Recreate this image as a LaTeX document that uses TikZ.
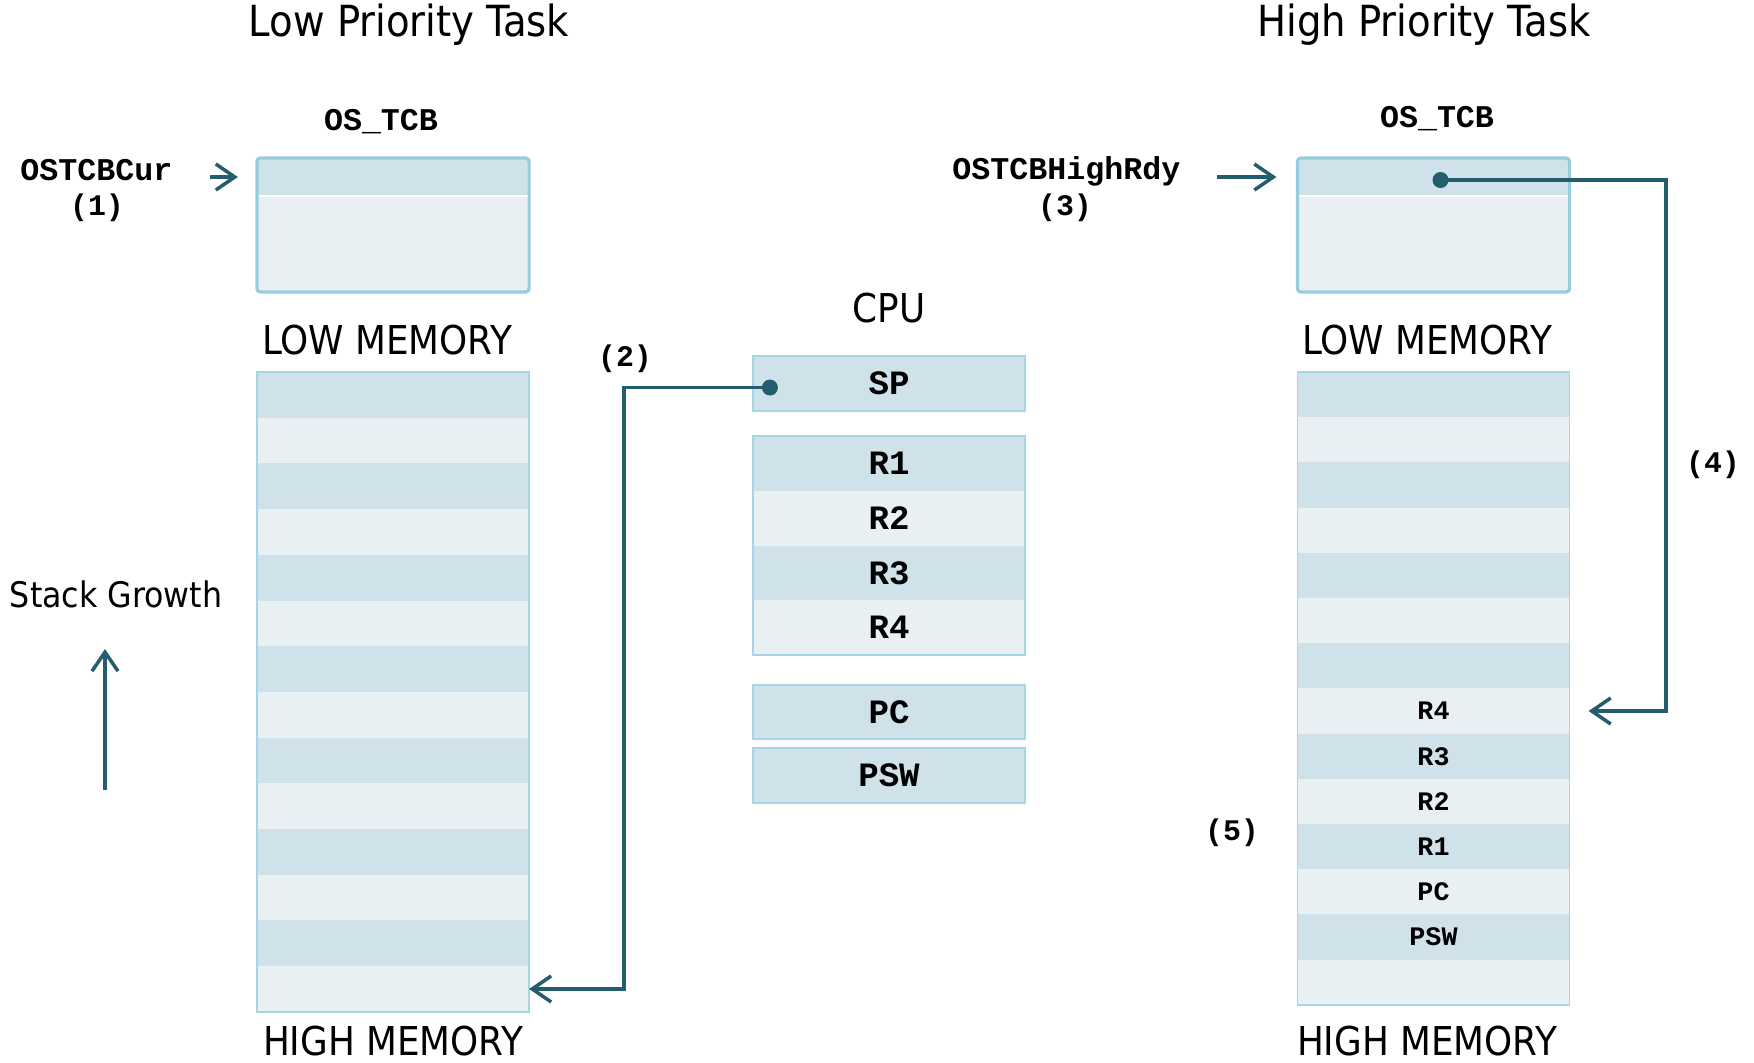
\documentclass[tikz,border=0pt]{standalone}
\usepackage{fontspec}
\setmainfont{DejaVu Sans Condensed}
\setmonofont{Liberation Mono}
\usetikzlibrary{arrows.meta}
\definecolor{rowdark}{RGB}{208,226,233}
\definecolor{rowlight}{RGB}{232,240,243}
\definecolor{tcbline}{RGB}{150,205,222}
\definecolor{cellline}{RGB}{165,214,229}
\definecolor{linkcol}{RGB}{35,93,110}
\begin{document}
\begin{tikzpicture}[x=0.01cm, y=-0.01cm,
    title/.style={font=\fontsize{12.2}{15}\selectfont, inner sep=0pt},
    memlbl/.style={font=\fontsize{11.3}{14}\selectfont, inner sep=0pt},
    growlbl/.style={font=\fontsize{10}{12}\selectfont, inner sep=0pt},
    codelbl/.style={font=\ttfamily\bfseries\fontsize{9}{11}\selectfont, inner sep=0pt},
    steplbl/.style={font=\ttfamily\bfseries\fontsize{8.5}{10}\selectfont, inner sep=0pt},
    reglbl/.style={font=\ttfamily\bfseries\fontsize{9.7}{11}\selectfont},
    slotlbl/.style={font=\ttfamily\bfseries\fontsize{7.6}{9}\selectfont},
    cell/.style={minimum width=2.72cm, inner sep=0pt, outer sep=0pt},
    cellbox/.style={draw=cellline, line width=0.5pt},
    tcbbox/.style={draw=tcbline, line width=0.9pt, rounded corners=1pt},
    link/.style={draw=linkcol, line width=1pt},
    linkarrow/.style={link, -{Straight Barb[length=0.19cm, width=0.26cm]}}
  ]
  \useasboundingbox (0,0) rectangle (1754,1062);

  \node[title] (lowtitle) at (409,25) {Low Priority Task};
  \node[title] (hightitle) at (1424,25) {High Priority Task};

  % low priority task
  \node[codelbl] (tcbLname) at (381,122) {OS\_TCB};
  \node[cell, fill=rowdark, minimum height=0.38cm] (tcbLhd) at (393,177) {};
  \node[cell, fill=rowlight, minimum height=0.96cm] (tcbLbd) at (393,244) {};
  \draw[white, line width=0.8pt] (tcbLhd.south west) -- (tcbLhd.south east);
  \draw[tcbbox] (tcbLhd.north west) rectangle (tcbLbd.south east);
  \node[codelbl, anchor=east] (curlbl) at (173,170) {OSTCBCur};
  \node[steplbl] (step1) at (97,208) {(1)};
  \draw[linkarrow, shorten <=0.37cm, shorten >=0.19cm]
    (curlbl.east |- tcbLhd.west) -- (tcbLhd.west);

  \node[memlbl] (lowmemL) at (387,340) {LOW MEMORY};
  \foreach \i in {1,...,14} {
    \pgfmathsetmacro\ly{372+45.7*(\i-0.5)}
    \ifodd\i\relax\def\c{rowdark}\else\def\c{rowlight}\fi
    \node[cell, fill=\c, minimum height=0.457cm] (ls\i) at (393,\ly) {};
  }
  \draw[cellbox] (ls1.north west) rectangle (ls14.south east);
  \node[memlbl] (highmemL) at (393,1041) {HIGH MEMORY};

  \node[growlbl] (growlbl) at (116,594) {Stack Growth};
  \coordinate (growbase) at (105,790);
  \draw[linkarrow] (growbase) -- ++(0,-141);

  % cpu
  \node[memlbl] (cpulbl) at (889,308) {CPU};
  \node[cell, cellbox, fill=rowdark, minimum height=0.55cm, reglbl] (sp) at (889,383.5) {SP};
  \foreach \r/\y/\c in {R1/463.4/rowdark, R2/518.1/rowlight, R3/572.9/rowdark, R4/627.6/rowlight} {
    \node[cell, fill=\c, minimum height=0.5475cm, reglbl] (\r) at (889,\y) {\r};
  }
  \draw[cellbox] (R1.north west) rectangle (R4.south east);
  \node[cell, cellbox, fill=rowdark, minimum height=0.54cm, reglbl] (pc) at (889,712) {PC};
  \node[cell, cellbox, fill=rowdark, minimum height=0.55cm, reglbl] (psw) at (889,775.5) {PSW};

  \node[steplbl] (step2) at (625,359) {(2)};
  \coordinate (spdot) at ([xshift=0.17cm, yshift=-0.04cm]sp.west);
  \coordinate (bend2) at (624,0);
  \draw[linkarrow] (spdot) -| (bend2 |- ls14.east) -- (ls14.east);
  \fill[linkcol] (spdot) circle (0.08cm);

  % high priority task
  \node[codelbl] (tcbRname) at (1437,119) {OS\_TCB};
  \node[cell, fill=rowdark, minimum height=0.38cm] (tcbRhd) at (1433.5,177) {};
  \node[cell, fill=rowlight, minimum height=0.96cm] (tcbRbd) at (1433.5,244) {};
  \draw[white, line width=0.8pt] (tcbRhd.south west) -- (tcbRhd.south east);
  \draw[tcbbox] (tcbRhd.north west) rectangle (tcbRbd.south east);
  \node[codelbl, anchor=east] (rdylbl) at (1181,171) {OSTCBHighRdy};
  \node[steplbl] (step3) at (1065,208) {(3)};
  \draw[linkarrow, shorten <=0.36cm, shorten >=0.21cm]
    (rdylbl.east |- tcbRhd.west) -- (tcbRhd.west);

  \node[memlbl] (lowmemR) at (1427,340) {LOW MEMORY};
  \foreach \i/\lbl in {1/{},2/{},3/{},4/{},5/{},6/{},7/{},8/R4,9/R3,10/R2,11/R1,12/PC,13/PSW,14/{}} {
    \pgfmathsetmacro\ry{372+45.2*(\i-0.5)}
    \ifodd\i\relax\def\c{rowdark}\else\def\c{rowlight}\fi
    \node[cell, fill=\c, minimum height=0.452cm, slotlbl] (rs\i) at (1433.5,\ry) {\lbl};
  }
  \draw[cellbox] (rs1.north west) rectangle (rs14.south east);
  \node[memlbl] (highmemR) at (1427,1041) {HIGH MEMORY};

  \node[steplbl] (step4) at (1713,465) {(4)};
  \node[steplbl] (step5) at (1232,833) {(5)};
  \coordinate (hrdot) at ([xshift=0.07cm, yshift=-0.03cm]tcbRhd.center);
  \coordinate (bend4) at (1666,0);
  \draw[linkarrow] (hrdot) -| (bend4 |- rs8.east) -- ([xshift=0.19cm]rs8.east);
  \fill[linkcol] (hrdot) circle (0.08cm);
\end{tikzpicture}
\end{document}
